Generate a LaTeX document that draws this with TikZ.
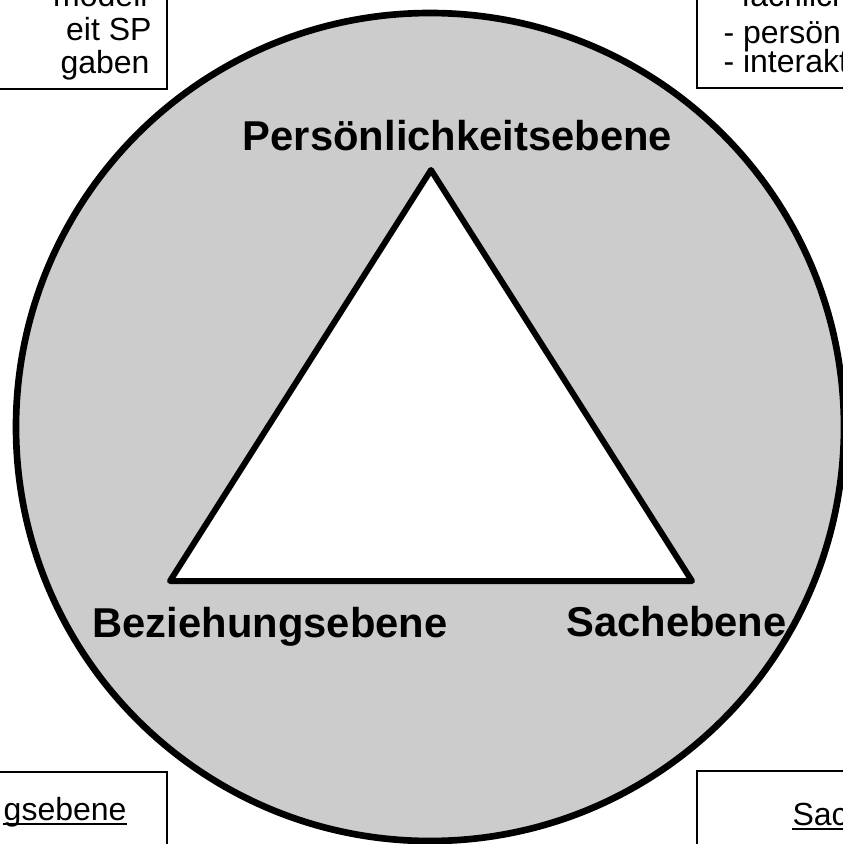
\documentclass[tikz,border=0pt]{standalone}
\usepackage{fontspec}
\setmainfont{Liberation Sans}
\usetikzlibrary{calc}
\definecolor{ringgray}{RGB}{204,204,204}
\tikzset{every picture/.style={line width=0.75pt}}
\tikzset{
  levellabel/.style={font=\fontsize{31.3}{37}\selectfont\bfseries, inner sep=0pt},
  boxtext/.style={font=\fontsize{24}{28}\selectfont, inner sep=0pt},
  cornerbox/.style={draw, line width=2pt, fill=white},
}

\begin{document}
\begin{tikzpicture}[x=0.75pt,y=0.75pt,yscale=-1,xscale=1]
\useasboundingbox (0,0) rectangle (843,844);
\clip (0,0) rectangle (843,844);

%Shape: Rectangle top left
\draw [cornerbox] (-200,-60) -- (167,-60) -- (167,89) -- (-200,89) -- cycle ;
%Shape: Rectangle top right
\draw [cornerbox] (697,-60) -- (1050,-60) -- (1050,88) -- (697,88) -- cycle ;
%Shape: Rectangle bottom left
\draw [cornerbox] (-200,772) -- (167,772) -- (167,900) -- (-200,900) -- cycle ;
%Shape: Rectangle bottom right
\draw [cornerbox] (697,771) -- (1050,771) -- (1050,900) -- (697,900) -- cycle ;

%Shape: Circle
\draw [fill=ringgray, line width=5pt] (430,427) circle [radius=414] ;
%Shape: Triangle
\draw [fill=white, line width=4.5pt, line join=round] (431,170) -- (692,581) -- (170,581) -- cycle ;

% Text Node
\node [levellabel, anchor=base] (pers) at (457.5,150) {Persönlichkeitsebene};
% Text Node
\node [levellabel, anchor=base] (bez) at (270,637) {Beziehungsebene};
% Text Node
\node [levellabel, anchor=base] (sach) at (676.5,636) {Sachebene};

% Text Node
\node [boxtext, anchor=base east] (tl1) at (148,6) {modell};
\node [boxtext, anchor=base east] (tl2) at (152,40) {eit SP};
\node [boxtext, anchor=base east] (tl3) at (150,73) {gaben};
% Text Node
\node [boxtext, anchor=base west] (tr1) at (741,6) {fachlich};
\node [boxtext, anchor=base west] (tr2) at (723,43) {- persön};
\node [boxtext, anchor=base west] (tr3) at (723,72) {- interakt};
% Text Node
\node [boxtext, anchor=base east] (bl) at (127,820) {gsebene};
\draw [line width=1.5pt] ($(bl.base west)+(0,4)$) -- ($(bl.base east)+(0,4)$) ;
% Text Node
\node [boxtext, anchor=base west] (br) at (792,825) {Sac};
\draw [line width=1.5pt] ($(br.base west)+(0,4)$) -- ($(br.base east)+(0,4)$) ;

\end{tikzpicture}
\end{document}
